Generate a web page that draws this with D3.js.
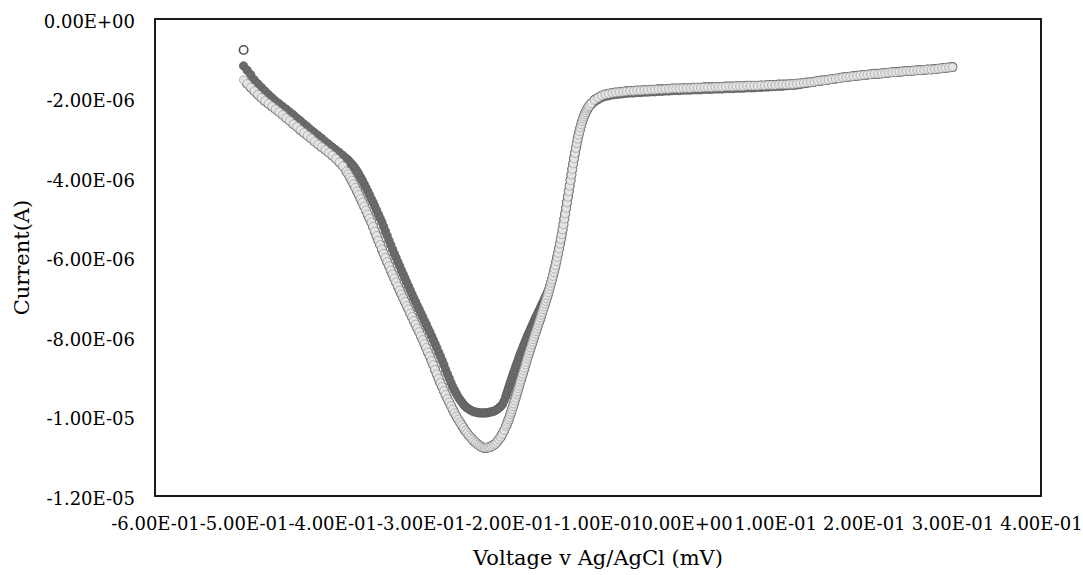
<!DOCTYPE html>
<html>
<head>
<meta charset="utf-8">
<script src="https://cdn.jsdelivr.net/npm/d3@7"></script>
<style>
    body { margin: 0; background: #fff; }
    text { font-family: "DejaVu Serif", serif; fill: #000; }
</style>
</head>
<body>
<div id="chart"></div>
<script>
// potential sweep (V vs Ag/AgCl), sampled finer where the curve is steep
const voltage = [
    -0.500,-0.496,-0.492,-0.488,-0.484,-0.480,-0.476,-0.472,-0.468,-0.464,
    -0.460,-0.456,-0.452,-0.448,-0.444,-0.440,-0.436,-0.432,-0.428,-0.424,
    -0.420,-0.416,-0.412,-0.408,-0.404,-0.400,-0.396,-0.392,-0.388,-0.384,
    -0.382,-0.380,-0.378,-0.376,-0.374,-0.372,-0.370,-0.368,-0.366,-0.364,
    -0.362,-0.360,-0.358,-0.356,-0.354,-0.352,-0.350,-0.348,-0.346,-0.344,
    -0.342,-0.340,-0.338,-0.336,-0.334,-0.332,-0.330,-0.328,-0.326,-0.324,
    -0.322,-0.320,-0.318,-0.316,-0.314,-0.312,-0.310,-0.308,-0.306,-0.304,
    -0.302,-0.300,-0.298,-0.296,-0.294,-0.292,-0.290,-0.288,-0.286,-0.284,
    -0.282,-0.280,-0.278,-0.276,-0.274,-0.272,-0.270,-0.268,-0.266,-0.264,
    -0.262,-0.260,-0.258,-0.256,-0.254,-0.252,-0.250,-0.248,-0.246,-0.244,
    -0.242,-0.240,-0.238,-0.236,-0.234,-0.232,-0.230,-0.228,-0.226,-0.224,
    -0.222,-0.220,-0.218,-0.216,-0.214,-0.212,-0.210,-0.208,-0.206,-0.204,
    -0.203,-0.202,-0.201,-0.200,-0.199,-0.198,-0.197,-0.196,-0.195,-0.194,
    -0.193,-0.192,-0.191,-0.190,-0.189,-0.188,-0.187,-0.186,-0.185,-0.184,
    -0.183,-0.182,-0.181,-0.180,-0.179,-0.178,-0.177,-0.176,-0.175,-0.174,
    -0.173,-0.172,-0.171,-0.170,-0.169,-0.168,-0.167,-0.166,-0.165,-0.164,
    -0.163,-0.162,-0.161,-0.160,-0.159,-0.158,-0.157,-0.156,-0.155,-0.154,
    -0.153,-0.152,-0.151,-0.150,-0.149,-0.148,-0.147,-0.146,-0.145,-0.144,
    -0.143,-0.142,-0.141,-0.140,-0.139,-0.138,-0.137,-0.136,-0.135,-0.134,
    -0.133,-0.132,-0.131,-0.130,-0.129,-0.128,-0.127,-0.126,-0.125,-0.124,
    -0.123,-0.122,-0.121,-0.120,-0.119,-0.118,-0.117,-0.116,-0.115,-0.114,
    -0.113,-0.112,-0.111,-0.110,
    -0.108,-0.104,-0.100,-0.096,-0.092,-0.088,-0.084,-0.080,-0.076,-0.072,
    -0.068,-0.064,-0.060,-0.056,-0.052,-0.048,-0.044,-0.040,-0.036,-0.032,
    -0.028,-0.024,-0.020,-0.016,-0.012,-0.008,-0.004, 0.000, 0.004, 0.008,
     0.012, 0.016, 0.020, 0.024, 0.028, 0.032, 0.036, 0.040, 0.044, 0.048,
     0.052, 0.056, 0.060, 0.064, 0.068, 0.072, 0.076, 0.080, 0.084, 0.088,
     0.092, 0.096, 0.100, 0.104, 0.108, 0.112, 0.116, 0.120, 0.124, 0.128,
     0.132, 0.136, 0.140, 0.144, 0.148, 0.152, 0.156, 0.160, 0.164, 0.168,
     0.172, 0.176, 0.180, 0.184, 0.188, 0.192, 0.196, 0.200, 0.204, 0.208,
     0.212, 0.216, 0.220, 0.224, 0.228, 0.232, 0.236, 0.240, 0.244, 0.248,
     0.252, 0.256, 0.260, 0.264, 0.268, 0.272, 0.276, 0.280, 0.284, 0.288,
     0.292, 0.296, 0.300
];

// currents in microamps, one value per voltage
const scanDark = [
    -1.18,-1.29,-1.40,-1.53,-1.63,-1.72,-1.81,-1.90,-1.98,-2.06,
    -2.13,-2.20,-2.27,-2.34,-2.41,-2.49,-2.56,-2.64,-2.71,-2.79,
    -2.86,-2.93,-3.00,-3.08,-3.15,-3.22,-3.29,-3.36,-3.43,-3.51,
    -3.55,-3.60,-3.65,-3.70,-3.76,-3.83,-3.90,-3.98,-4.06,-4.15,
    -4.24,-4.33,-4.42,-4.52,-4.61,-4.71,-4.81,-4.91,-5.01,-5.11,
    -5.22,-5.34,-5.45,-5.57,-5.68,-5.79,-5.90,-6.00,-6.11,-6.21,
    -6.32,-6.42,-6.52,-6.62,-6.72,-6.82,-6.92,-7.02,-7.11,-7.21,
    -7.30,-7.40,-7.49,-7.59,-7.68,-7.78,-7.87,-7.97,-8.07,-8.17,
    -8.27,-8.38,-8.48,-8.59,-8.70,-8.82,-8.93,-9.04,-9.15,-9.25,
    -9.34,-9.42,-9.50,-9.57,-9.63,-9.69,-9.74,-9.78,-9.81,-9.84,
    -9.86,-9.88,-9.89,-9.90,-9.91,-9.91,-9.91,-9.91,-9.91,-9.90,
    -9.89,-9.88,-9.87,-9.85,-9.82,-9.79,-9.75,-9.70,-9.61,-9.50,
    -9.43,-9.36,-9.29,-9.22,-9.15,-9.09,-9.02,-8.95,-8.89,-8.83,
    -8.76,-8.70,-8.64,-8.57,-8.51,-8.45,-8.39,-8.34,-8.28,-8.22,
    -8.17,-8.11,-8.06,-8.00,-7.95,-7.90,-7.85,-7.80,-7.75,-7.70,
    -7.65,-7.60,-7.55,-7.50,-7.46,-7.41,-7.36,-7.32,-7.27,-7.22,
    -7.17,-7.13,-7.08,-7.03,-6.98,-6.93,-6.88,-6.84,-6.79,-6.71,
    -6.62,-6.54,-6.45,-6.36,-6.27,-6.18,-6.08,-5.97,-5.87,-5.76,
    -5.64,-5.52,-5.40,-5.28,-5.15,-5.01,-4.88,-4.74,-4.60,-4.46,
    -4.32,-4.18,-4.04,-3.90,-3.76,-3.62,-3.49,-3.36,-3.23,-3.11,
    -3.01,-2.92,-2.84,-2.76,-2.68,-2.61,-2.54,-2.48,-2.43,-2.38,
    -2.33,-2.29,-2.25,-2.22,
    -2.17,-2.09,-2.03,-1.98,-1.95,-1.93,-1.91,-1.90,-1.89,-1.88,
    -1.87,-1.86,-1.86,-1.85,-1.85,-1.84,-1.84,-1.83,-1.83,-1.82,
    -1.82,-1.81,-1.81,-1.80,-1.80,-1.80,-1.79,-1.79,-1.79,-1.78,
    -1.78,-1.78,-1.77,-1.77,-1.77,-1.76,-1.76,-1.76,-1.75,-1.75,
    -1.75,-1.74,-1.74,-1.74,-1.73,-1.73,-1.73,-1.72,-1.72,-1.71,
    -1.71,-1.70,-1.70,-1.69,-1.69,-1.68,-1.67,-1.67,-1.66,-1.65,
    -1.63,-1.62,-1.60,-1.59,-1.57,-1.56,-1.54,-1.53,-1.52,-1.50,
    -1.49,-1.47,-1.46,-1.45,-1.44,-1.43,-1.42,-1.41,-1.40,-1.39,
    -1.38,-1.38,-1.37,-1.36,-1.35,-1.34,-1.34,-1.33,-1.32,-1.31,
    -1.31,-1.30,-1.29,-1.29,-1.28,-1.27,-1.27,-1.26,-1.25,-1.24,
    -1.23,-1.22,-1.21
];

const scanLight = [
    -1.53,-1.63,-1.72,-1.81,-1.90,-1.98,-2.06,-2.13,-2.20,-2.27,
    -2.34,-2.41,-2.49,-2.56,-2.64,-2.71,-2.79,-2.86,-2.93,-3.00,
    -3.08,-3.15,-3.22,-3.29,-3.36,-3.43,-3.51,-3.60,-3.70,-3.83,
    -3.90,-3.98,-4.06,-4.15,-4.24,-4.33,-4.42,-4.52,-4.61,-4.71,
    -4.81,-4.91,-5.01,-5.11,-5.22,-5.34,-5.45,-5.57,-5.68,-5.79,
    -5.90,-6.00,-6.11,-6.21,-6.32,-6.42,-6.52,-6.62,-6.72,-6.82,
    -6.92,-7.02,-7.11,-7.21,-7.30,-7.40,-7.49,-7.59,-7.68,-7.78,
    -7.87,-7.97,-8.07,-8.17,-8.27,-8.38,-8.48,-8.59,-8.70,-8.82,
    -8.93,-9.04,-9.15,-9.25,-9.35,-9.45,-9.55,-9.64,-9.73,-9.82,
    -9.91,-9.99,-10.07,-10.14,-10.21,-10.28,-10.35,-10.41,-10.47,-10.52,
    -10.57,-10.62,-10.66,-10.70,-10.73,-10.76,-10.78,-10.79,-10.79,-10.78,
    -10.77,-10.75,-10.72,-10.69,-10.64,-10.58,-10.52,-10.44,-10.35,-10.25,
    -10.20,-10.14,-10.08,-10.02,-9.95,-9.89,-9.82,-9.75,-9.68,-9.60,
    -9.53,-9.45,-9.38,-9.30,-9.23,-9.15,-9.08,-9.00,-8.93,-8.85,
    -8.78,-8.70,-8.63,-8.55,-8.48,-8.41,-8.34,-8.27,-8.20,-8.13,
    -8.06,-7.99,-7.92,-7.86,-7.79,-7.72,-7.65,-7.59,-7.52,-7.45,
    -7.38,-7.31,-7.24,-7.17,-7.10,-7.03,-6.96,-6.88,-6.80,-6.72,
    -6.64,-6.56,-6.47,-6.38,-6.29,-6.20,-6.10,-5.99,-5.89,-5.78,
    -5.66,-5.54,-5.42,-5.30,-5.17,-5.03,-4.90,-4.76,-4.62,-4.48,
    -4.34,-4.20,-4.06,-3.92,-3.78,-3.64,-3.51,-3.38,-3.25,-3.13,
    -3.02,-2.92,-2.83,-2.74,-2.66,-2.58,-2.51,-2.45,-2.40,-2.35,
    -2.30,-2.26,-2.22,-2.19,
    -2.13,-2.04,-1.98,-1.93,-1.90,-1.88,-1.86,-1.85,-1.84,-1.83,
    -1.82,-1.81,-1.81,-1.80,-1.80,-1.79,-1.79,-1.78,-1.78,-1.77,
    -1.77,-1.76,-1.76,-1.75,-1.75,-1.75,-1.74,-1.74,-1.74,-1.73,
    -1.73,-1.73,-1.72,-1.72,-1.72,-1.71,-1.71,-1.71,-1.70,-1.70,
    -1.70,-1.69,-1.69,-1.69,-1.68,-1.68,-1.68,-1.68,-1.67,-1.67,
    -1.66,-1.66,-1.66,-1.65,-1.65,-1.65,-1.64,-1.64,-1.63,-1.62,
    -1.61,-1.60,-1.59,-1.58,-1.56,-1.55,-1.54,-1.53,-1.51,-1.50,
    -1.49,-1.47,-1.46,-1.45,-1.44,-1.43,-1.42,-1.41,-1.40,-1.39,
    -1.38,-1.38,-1.37,-1.36,-1.35,-1.34,-1.34,-1.33,-1.32,-1.31,
    -1.31,-1.30,-1.29,-1.29,-1.28,-1.27,-1.27,-1.26,-1.25,-1.24,
    -1.23,-1.22,-1.21
];

// hollow-marker scan lies under the light one, only its first point stands apart
const scanHollow = [-0.78].concat(scanLight.slice(1));

const xTicks = [-0.6, -0.5, -0.4, -0.3, -0.2, -0.1, 0, 0.1, 0.2, 0.3, 0.4];
const yTicks = [0, -2e-6, -4e-6, -6e-6, -8e-6, -1e-5, -1.2e-5];

const series = [
    {name: "scan 1", values: scanHollow, fill: "#ffffff", stroke: "#505050", sw: 1.6},
    {name: "scan 2", values: scanDark, fill: "#6b6b6b", stroke: "#5e5e5e", sw: 0.8},
    {name: "scan 3", values: scanLight, fill: "#e4e4e4", stroke: "#9c9c9c", sw: 0.7}
];

// Excel style 0.00E+00
function sci(v) {
    if (v === 0) return "0.00E+00";
    let e = Math.floor(Math.log10(Math.abs(v)) + 1e-9);
    let m = v / Math.pow(10, e);
    let es = (e < 0 ? "-" : "+") + String(Math.abs(e)).padStart(2, "0");
    return m.toFixed(2) + "E" + es;
}

let W = 1083, H = 575;
let plot = {left: 155, right: 1041, top: 19, bottom: 496};

let svg = d3.select("#chart").append("svg")
    .attr("width", W)
    .attr("height", H);

let x = d3.scaleLinear().domain([-0.6, 0.4]).range([plot.left, plot.right]);
let y = d3.scaleLinear().domain([-1.2e-5, 0]).range([plot.bottom, plot.top]);

// markers
series.forEach(function(s) {
    svg.append("g")
        .attr("class", "series")
        .selectAll("circle")
        .data(s.values)
        .enter().append("circle")
        .attr("cx", function(d, i) { return x(voltage[i]); })
        .attr("cy", function(d) { return y(d * 1e-6); })
        .attr("r", 4.2)
        .attr("fill", s.fill)
        .attr("stroke", s.stroke)
        .attr("stroke-width", s.sw);
});

// plot frame
svg.append("rect")
    .attr("x", plot.left)
    .attr("y", plot.top)
    .attr("width", plot.right - plot.left)
    .attr("height", plot.bottom - plot.top)
    .attr("fill", "none")
    .attr("stroke", "#000")
    .attr("stroke-width", 1.8);

// axes (labels only)
let gx = svg.append("g")
    .attr("transform", "translate(0," + plot.bottom + ")")
    .call(d3.axisBottom(x).tickValues(xTicks).tickFormat(sci).tickSize(0).tickPadding(21));
gx.select(".domain").remove();
gx.selectAll("text")
    .attr("font-size", "18px")
    .style("font-family", "DejaVu Serif, serif")
    .attr("fill", "#000");

let gy = svg.append("g")
    .attr("transform", "translate(" + plot.left + ",0)")
    .call(d3.axisLeft(y).tickValues(yTicks).tickFormat(sci).tickSize(0).tickPadding(20));
gy.select(".domain").remove();
gy.selectAll("text")
    .attr("font-size", "18px")
    .attr("dy", "0.45em")
    .style("font-family", "DejaVu Serif, serif")
    .attr("fill", "#000");

// axis titles
svg.append("text")
    .attr("x", (plot.left + plot.right) / 2)
    .attr("y", 565)
    .attr("text-anchor", "middle")
    .attr("font-size", "21px")
    .text("Voltage v Ag/AgCl (mV)");

svg.append("text")
    .attr("transform", "translate(29," + (plot.top + plot.bottom) / 2 + ") rotate(-90)")
    .attr("text-anchor", "middle")
    .attr("font-size", "21px")
    .text("Current(A)");
</script>
</body>
</html>
